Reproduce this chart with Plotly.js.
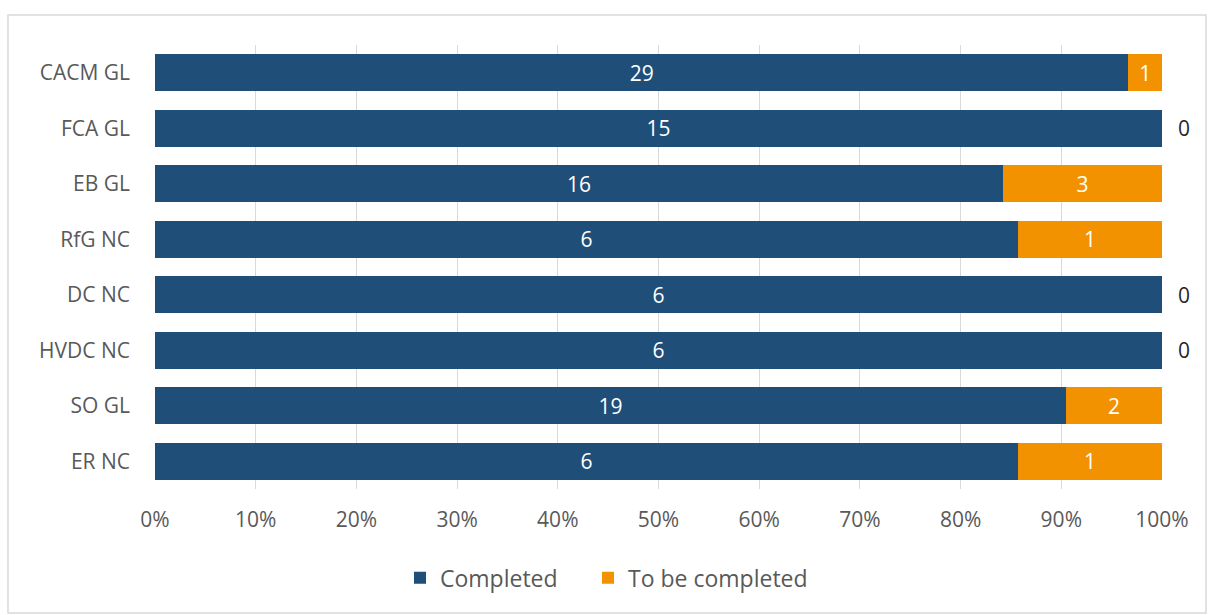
<!DOCTYPE html>
<html><head><meta charset="utf-8">
<script src="https://cdn.plot.ly/plotly-3.0.1.min.js"></script>
<style>body{margin:0;background:#fff}#c{width:1208px;height:615px}</style>
</head><body><div id="c"></div>
<script>
const categories = ["CACM GL","FCA GL","EB GL","RfG NC","DC NC","HVDC NC","SO GL","ER NC"];
const completed = [29,15,16,6,6,6,19,6];
const toBeCompleted = [1,0,3,1,0,0,2,1];
const seriesNames = ["Completed","To be completed"];

const fontFam = '"Open Sans", "Noto Sans", sans-serif';
const traces = [
  {type:'bar', orientation:'h', name:seriesNames[0], y:categories, x:completed,
   marker:{color:'#1F4E79'}, text:completed.map(String), textposition:'inside',
   insidetextanchor:'middle', textfont:{color:'#ffffff', size:21, family:fontFam}, width:0.67,
   constraintext:'none', hoverinfo:'x+y', legend:'legend'},
  {type:'bar', orientation:'h', name:seriesNames[1], y:categories, x:toBeCompleted,
   marker:{color:'#F39200'}, text:toBeCompleted.map(v=>v===0?'':String(v)),
   textposition:'inside', insidetextanchor:'middle', constraintext:'none',
   textfont:{color:'#ffffff', size:21, family:fontFam},
   width:0.67, hoverinfo:'x+y', legend:'legend2'}
];
// labels for zero-valued "To be completed" segments, placed right of the 100% stack end
const annotations = [];
categories.forEach((c,i)=>{
  if (toBeCompleted[i] === 0) {
    const total = completed[i] + toBeCompleted[i];
    annotations.push({x: (completed[i]+toBeCompleted[i])/total*100, y:c, xref:'x', yref:'y',
      text:String(toBeCompleted[i]), showarrow:false, xanchor:'center', xshift:22,
      font:{size:21, color:'#262626', family:fontFam}});
  }
});
const legendBase = {orientation:'h', xanchor:'left', y:-0.20, yanchor:'middle',
          font:{size:23, color:'#595959'}, bgcolor:'rgba(0,0,0,0)'};
const layout = {
  width:1208, height:615, barmode:'stack', barnorm:'percent',
  margin:{l:155, r:46, t:45, b:126},
  paper_bgcolor:'#ffffff', plot_bgcolor:'#ffffff',
  font:{family:fontFam, color:'#595959', size:21},
  showlegend:true,
  legend:Object.assign({}, legendBase, {x:(400-155)/1007}),
  legend2:Object.assign({}, legendBase, {x:(588-155)/1007}),
  xaxis:{range:[0,100], dtick:10, ticksuffix:'%', showgrid:true, gridcolor:'#d9d9d9',
         zeroline:false, showline:false, ticks:'', ticklabelstandoff:16,
         tickfont:{size:21, color:'#595959'}},
  yaxis:{autorange:'reversed', showgrid:false, zeroline:false, ticks:'', ticklabelstandoff:24,
         tickfont:{size:21, color:'#595959'}},
  annotations: annotations,
  shapes:[{type:'rect', xref:'paper', yref:'paper', x0:-0.146, x1:1.0437, y0:-0.279, y1:1.0676,
           line:{color:'#d9d9d9', width:1.5}, fillcolor:'rgba(0,0,0,0)', layer:'below'}]
};
Plotly.newPlot('c', traces, layout, {displayModeBar:false, staticPlot:true});
</script></body></html>
